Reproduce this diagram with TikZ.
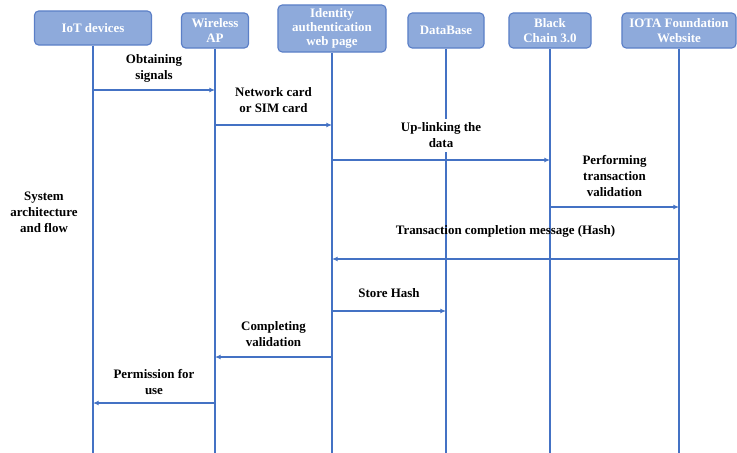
\documentclass[tikz,border=0pt]{standalone}
\usepackage{fontspec}
\setmainfont{Liberation Serif}
\usetikzlibrary{arrows.meta,positioning}
\definecolor{boxfill}{HTML}{8EAADB}
\definecolor{boxline}{HTML}{5B7FC7}
\definecolor{flow}{HTML}{4472C4}

\begin{document}
\begin{tikzpicture}[x=0.025cm,y=-0.025cm,>={Latex[length=4pt,width=3.5pt]},
  actor/.style={rectangle,rounded corners=3pt,draw=boxline,fill=boxfill,text=white,line width=0.8pt,
    font=\bfseries\fontsize{9.2}{10.5}\selectfont,align=center,inner sep=0pt},
  life/.style={draw=flow,line width=1.4pt},
  msg/.style={->,draw=flow,line width=1.1pt},
  lbl/.style={font=\bfseries\fontsize{9.2}{11.3}\selectfont,align=center,inner sep=1pt}]

  \useasboundingbox (0,0) rectangle (737,453);

  % participants
  \node[actor,minimum width=2.925cm,minimum height=0.85cm] (iot) at (93,28) {IoT devices};
  \node[actor,minimum width=1.675cm,minimum height=0.875cm] (ap) at (215,30.5) {Wireless\\AP};
  \node[actor,minimum width=2.7cm,minimum height=1.175cm,font=\bfseries\fontsize{9.2}{9.8}\selectfont] (web) at (332,28.5) {Identity\\authentication\\web page};
  \node[actor,minimum width=1.9cm,minimum height=0.875cm] (db) at (446,30.5) {DataBase};
  \node[actor,minimum width=2.05cm,minimum height=0.875cm] (bc) at (550,30.5) {Black\\Chain 3.0};
  \node[actor,minimum width=2.85cm,minimum height=0.875cm] (iota) at (679,30.5) {IOTA Foundation\\Website};

  % lifelines
  \foreach \n in {iot,ap,web,db,bc,iota}
    \draw[life] (\n.south) -- (\n.south |- 0,453);

  \node[lbl] (title) at (44,212) {System\\architecture\\and flow};

  % messages
  \draw[msg] (iot |- 0,90) -- (ap |- 0,90)
    node[lbl,midway,above=4pt] (m1) {Obtaining\\signals};
  \draw[msg] (ap |- 0,125) -- (web |- 0,125)
    node[lbl,midway,above=7.5pt] (m2) {Network card\\or SIM card};
  \draw[msg] (web |- 0,160) -- (bc |- 0,160)
    node[lbl,midway,above=5pt,fill=white,inner sep=3pt] (m3) {Up-linking the\\data};
  \draw[msg] (bc |- 0,207) -- (iota |- 0,207)
    node[lbl,midway,above=6pt] (m4) {Performing\\transaction\\validation};
  \draw[msg] (iota |- 0,259) -- (web |- 0,259)
    node[lbl,midway,above=14pt] (m5) {Transaction completion message (Hash)};
  \draw[msg] (web |- 0,311) -- (db |- 0,311)
    node[lbl,midway,above=8pt] (m6) {Store Hash};
  \draw[msg] (web |- 0,357) -- (ap |- 0,357)
    node[lbl,midway,above=6pt] (m7) {Completing\\validation};
  \draw[msg] (ap |- 0,403) -- (iot |- 0,403)
    node[lbl,midway,above=4.5pt] (m8) {Permission for\\use};

\end{tikzpicture}
\end{document}
